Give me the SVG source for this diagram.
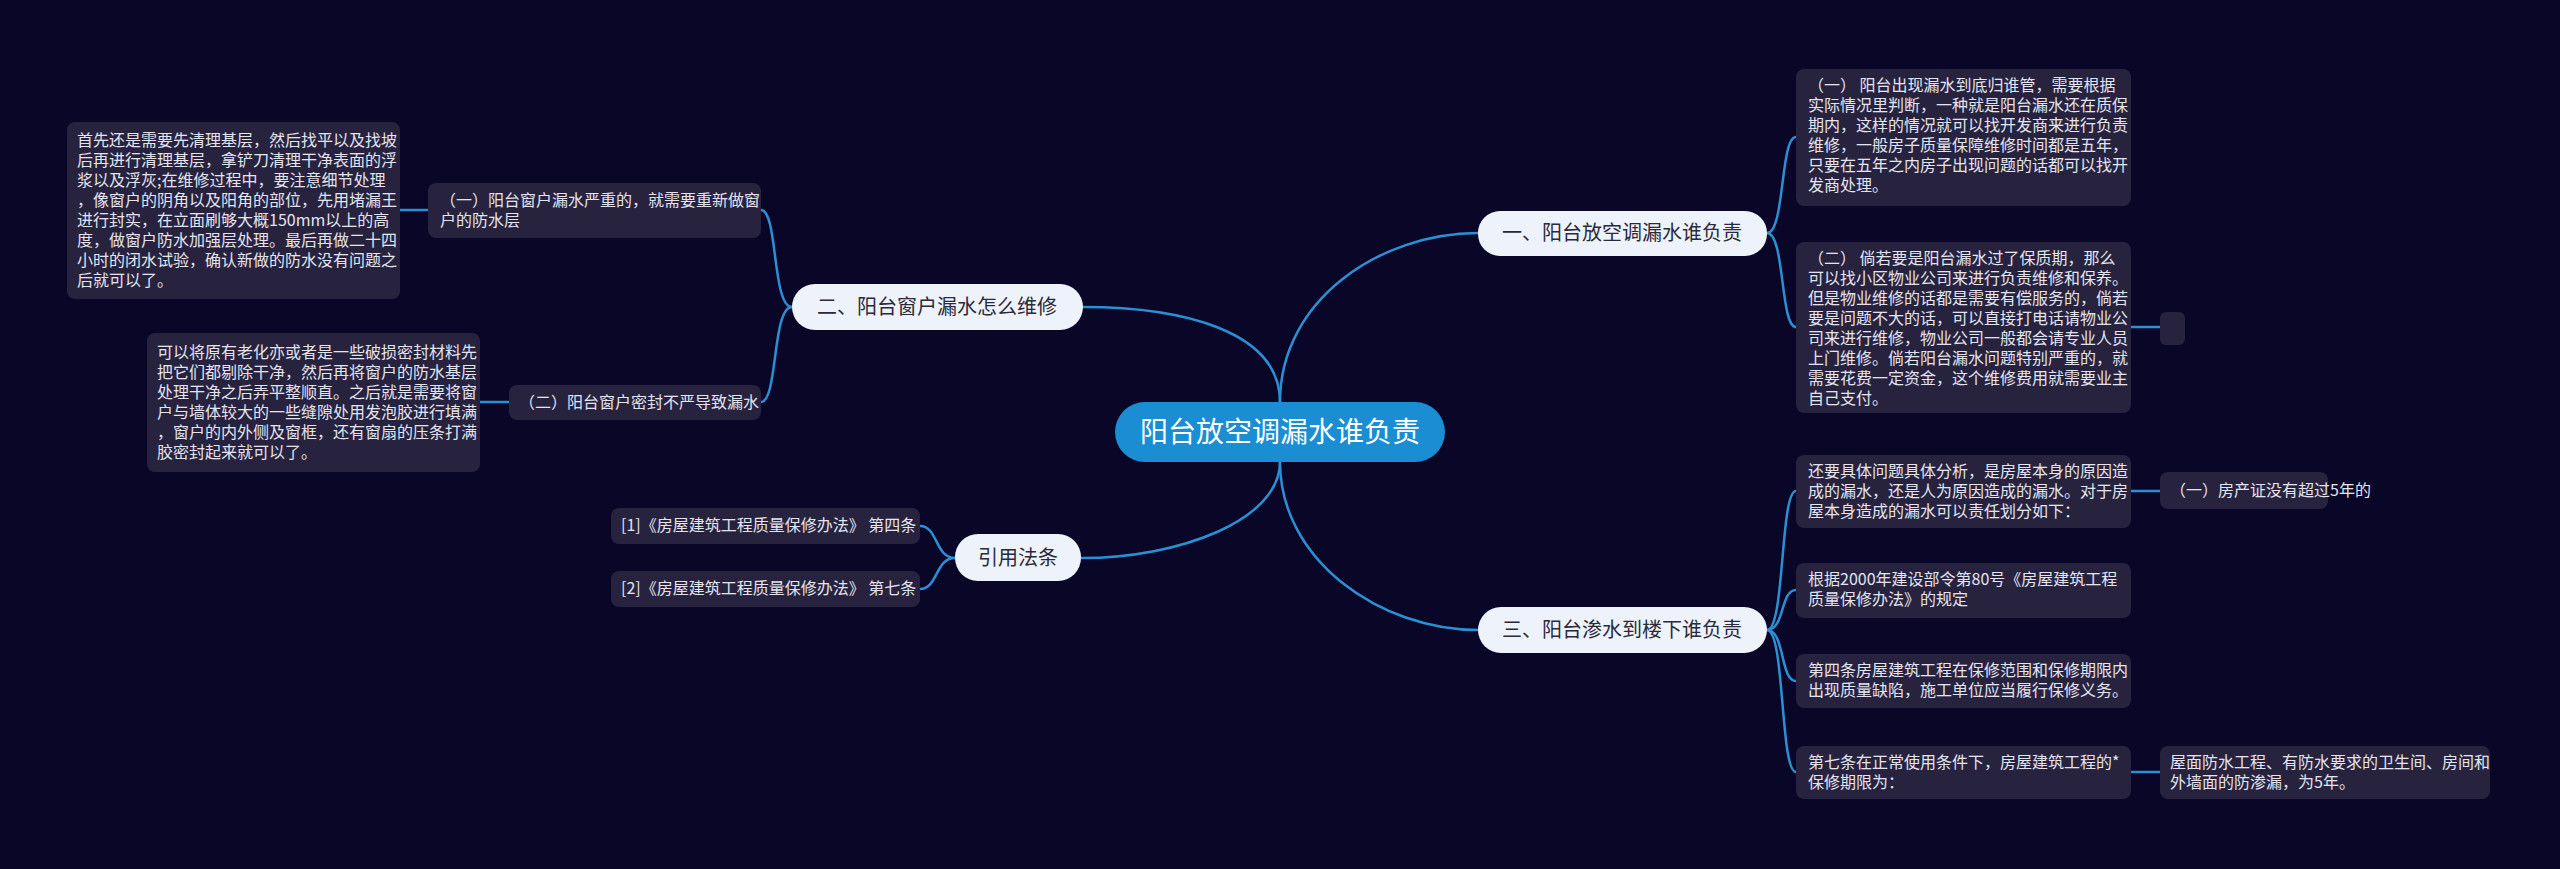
<svg xmlns="http://www.w3.org/2000/svg" width="2560" height="869" viewBox="0 0 2560 869">
<style>
text{font-family:"Noto Sans CJK SC","Liberation Sans",sans-serif}
.leaf{fill:#27233f}
.lt{fill:#e4e4f0;font-size:16px}
.br{fill:#eef3fb}
.bt{fill:#2a2a3a;font-size:20px}
.c{fill:none;stroke:#2a90d4;stroke-width:2.5}
</style>
<rect width="2560" height="869" fill="#0a0628"/>
<g id="connectors">
<path class="c" d="M1280,402 C1280,300 1380,233 1478,233"/>
<path class="c" d="M1280,402 C1280,330 1180,307 1083,307"/>
<path class="c" d="M1280,462 C1280,560 1380,630 1478,630"/>
<path class="c" d="M1280,462 C1280,520 1180,558 1081,558"/>
<path class="c" d="M1767,233 C1785,233 1780,137 1796,137"/>
<path class="c" d="M1767,233 C1785,233 1780,327 1796,327"/>
<path class="c" d="M2131,327 L2160,327"/>
<path class="c" d="M1767,630 C1785,630 1780,491 1796,491"/>
<path class="c" d="M1767,630 C1785,630 1780,590 1796,590"/>
<path class="c" d="M1767,630 C1785,630 1780,681 1796,681"/>
<path class="c" d="M1767,630 C1785,630 1780,772 1796,772"/>
<path class="c" d="M2131,491 L2160,491"/>
<path class="c" d="M2131,772 L2160,772"/>
<path class="c" d="M792,307 C772,307 778,210 761,210"/>
<path class="c" d="M792,307 C772,307 778,402 761,402"/>
<path class="c" d="M428,210 L400,210"/>
<path class="c" d="M509,402 L480,402"/>
<path class="c" d="M955,558 C935,558 938,526 920,526"/>
<path class="c" d="M955,558 C935,558 938,589 920,589"/>
</g>
<g id="root"><rect x="1115" y="402" width="330" height="60" rx="30" fill="#1b8dd3"/><text x="1280" y="442" text-anchor="middle" font-size="28" fill="#fff">阳台放空调漏水谁负责</text></g>
<g id="b1"><rect class="br" x="1478" y="211" width="289" height="45" rx="22"/><text class="bt" x="1622" y="240" text-anchor="middle">一、阳台放空调漏水谁负责</text></g>
<g id="b2"><rect class="br" x="792" y="284" width="291" height="46" rx="23"/><text class="bt" x="937" y="314" text-anchor="middle">二、阳台窗户漏水怎么维修</text></g>
<g id="b3"><rect class="br" x="1478" y="607" width="289" height="46" rx="23"/><text class="bt" x="1622" y="637" text-anchor="middle">三、阳台渗水到楼下谁负责</text></g>
<g id="b4"><rect class="br" x="955" y="534" width="126" height="47" rx="23"/><text class="bt" x="1018" y="565" text-anchor="middle">引用法条</text></g>
<g id="r1"><rect class="leaf" x="1796" y="69" width="335" height="137" rx="8"/><text class="lt" x="1808" y="91"><tspan x="1808">（一） 阳台出现漏水到底归谁管，需要根据</tspan><tspan x="1808" dy="20">实际情况里判断，一种就是阳台漏水还在质保</tspan><tspan x="1808" dy="20">期内，这样的情况就可以找开发商来进行负责</tspan><tspan x="1808" dy="20">维修，一般房子质量保障维修时间都是五年，</tspan><tspan x="1808" dy="20">只要在五年之内房子出现问题的话都可以找开</tspan><tspan x="1808" dy="20">发商处理。</tspan></text></g>
<g id="r2"><rect class="leaf" x="1796" y="242" width="335" height="171" rx="8"/><text class="lt" x="1808" y="264"><tspan x="1808">（二） 倘若要是阳台漏水过了保质期，那么</tspan><tspan x="1808" dy="20">可以找小区物业公司来进行负责维修和保养。</tspan><tspan x="1808" dy="20">但是物业维修的话都是需要有偿服务的，倘若</tspan><tspan x="1808" dy="20">要是问题不大的话，可以直接打电话请物业公</tspan><tspan x="1808" dy="20">司来进行维修，物业公司一般都会请专业人员</tspan><tspan x="1808" dy="20">上门维修。倘若阳台漏水问题特别严重的，就</tspan><tspan x="1808" dy="20">需要花费一定资金，这个维修费用就需要业主</tspan><tspan x="1808" dy="20">自己支付。</tspan></text></g>
<g id="r2c"><rect class="leaf" x="2160" y="312" width="25" height="33" rx="6"/></g>
<g id="r3"><rect class="leaf" x="1796" y="455" width="335" height="73" rx="8"/><text class="lt" x="1808" y="477"><tspan x="1808">还要具体问题具体分析，是房屋本身的原因造</tspan><tspan x="1808" dy="20">成的漏水，还是人为原因造成的漏水。对于房</tspan><tspan x="1808" dy="20">屋本身造成的漏水可以责任划分如下：</tspan></text></g>
<g id="r3c"><rect class="leaf" x="2160" y="472" width="168" height="37" rx="8"/><text class="lt" x="2170" y="496">（一）房产证没有超过5年的</text></g>
<g id="r4"><rect class="leaf" x="1796" y="563" width="335" height="55" rx="8"/><text class="lt" x="1808" y="585"><tspan x="1808">根据2000年建设部令第80号《房屋建筑工程</tspan><tspan x="1808" dy="20">质量保修办法》的规定</tspan></text></g>
<g id="r5"><rect class="leaf" x="1796" y="654" width="335" height="54" rx="8"/><text class="lt" x="1808" y="676"><tspan x="1808">第四条房屋建筑工程在保修范围和保修期限内</tspan><tspan x="1808" dy="20">出现质量缺陷，施工单位应当履行保修义务。</tspan></text></g>
<g id="r6"><rect class="leaf" x="1796" y="746" width="335" height="53" rx="8"/><text class="lt" x="1808" y="768"><tspan x="1808">第七条在正常使用条件下，房屋建筑工程的*</tspan><tspan x="1808" dy="20">保修期限为：</tspan></text></g>
<g id="r6c"><rect class="leaf" x="2160" y="746" width="330" height="53" rx="8"/><text class="lt" x="2170" y="768"><tspan x="2170">屋面防水工程、有防水要求的卫生间、房间和</tspan><tspan x="2170" dy="20">外墙面的防渗漏，为5年。</tspan></text></g>
<g id="l1"><rect class="leaf" x="428" y="183" width="333" height="55" rx="8"/><text class="lt" x="440" y="206"><tspan x="440">（一）阳台窗户漏水严重的，就需要重新做窗</tspan><tspan x="440" dy="20">户的防水层</tspan></text></g>
<g id="l1c"><rect class="leaf" x="67" y="122" width="333" height="177" rx="8"/><text class="lt" x="77" y="146"><tspan x="77">首先还是需要先清理基层，然后找平以及找坡</tspan><tspan x="77" dy="20">后再进行清理基层，拿铲刀清理干净表面的浮</tspan><tspan x="77" dy="20">浆以及浮灰;在维修过程中，要注意细节处理</tspan><tspan x="77" dy="20">，像窗户的阴角以及阳角的部位，先用堵漏王</tspan><tspan x="77" dy="20">进行封实，在立面刷够大概150mm以上的高</tspan><tspan x="77" dy="20">度，做窗户防水加强层处理。最后再做二十四</tspan><tspan x="77" dy="20">小时的闭水试验，确认新做的防水没有问题之</tspan><tspan x="77" dy="20">后就可以了。</tspan></text></g>
<g id="l2"><rect class="leaf" x="509" y="385" width="252" height="35" rx="8"/><text class="lt" x="519" y="408">（二）阳台窗户密封不严导致漏水</text></g>
<g id="l2c"><rect class="leaf" x="147" y="333" width="333" height="139" rx="8"/><text class="lt" x="157" y="358"><tspan x="157">可以将原有老化亦或者是一些破损密封材料先</tspan><tspan x="157" dy="20">把它们都剔除干净，然后再将窗户的防水基层</tspan><tspan x="157" dy="20">处理干净之后弄平整顺直。之后就是需要将窗</tspan><tspan x="157" dy="20">户与墙体较大的一些缝隙处用发泡胶进行填满</tspan><tspan x="157" dy="20">，窗户的内外侧及窗框，还有窗扇的压条打满</tspan><tspan x="157" dy="20">胶密封起来就可以了。</tspan></text></g>
<g id="c1"><rect class="leaf" x="611" y="508" width="309" height="36" rx="8"/><text class="lt" x="621" y="531">[1]《房屋建筑工程质量保修办法》 第四条</text></g>
<g id="c2"><rect class="leaf" x="611" y="571" width="309" height="36" rx="8"/><text class="lt" x="621" y="594">[2]《房屋建筑工程质量保修办法》 第七条</text></g>
</svg>
